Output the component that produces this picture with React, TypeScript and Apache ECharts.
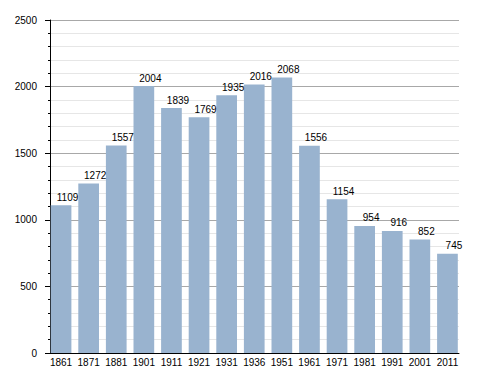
import React, { useEffect, useRef } from "react";
import * as echarts from "echarts";

const categories = ["1861", "1871", "1881", "1901", "1911", "1921", "1931", "1936", "1951", "1961", "1971", "1981", "1991", "2001", "2011"];
const values = [1109, 1272, 1557, 2004, 1839, 1769, 1935, 2016, 2068, 1556, 1154, 954, 916, 852, 745];
const yMax = 2500;
const yStep = 500;

export default function App() {
  const ref = useRef<HTMLDivElement>(null);
  useEffect(() => {
    if (!ref.current) return;
    const chart = echarts.init(ref.current, undefined, { renderer: "svg" });
    const font = "Liberation Sans, Arial, sans-serif";
    chart.setOption({
      animation: false,
      grid: [
        { left: 50, right: 29, top: 20, bottom: 20, containLabel: false },
        { left: 47.25, right: 26.75, top: 20, bottom: 20, containLabel: false },
      ],
      xAxis: [
        {
          gridIndex: 0,
          type: "category",
          data: categories,
          z: 10,
          axisLine: { lineStyle: { color: "#000", width: 1 } },
          axisTick: { show: false },
          axisLabel: { show: false },
          splitLine: { show: false },
        },
        {
          gridIndex: 1,
          type: "category",
          data: categories,
          axisLine: { show: false },
          axisTick: { show: false },
          axisLabel: { color: "#000", fontSize: 10, fontFamily: font, margin: 4, interval: 0 },
          splitLine: { show: false },
        },
      ],
      yAxis: [
        {
          gridIndex: 0,
          type: "value",
          min: 0,
          max: yMax,
          interval: yStep,
          axisLine: { show: true, lineStyle: { color: "#000", width: 1 } },
          axisTick: { show: true, length: 5, lineStyle: { color: "#000" } },
          minorTick: { show: true, splitNumber: 5, length: 2, lineStyle: { color: "#000" } },
          axisLabel: { color: "#000", fontSize: 10, fontFamily: font, margin: 13, formatter: (v: number) => String(v) },
          splitLine: { show: true, lineStyle: { color: "#a8a8a8", width: 1 } },
          minorSplitLine: { show: true, lineStyle: { color: "#e6e6e6", width: 1 } },
        },
        {
          gridIndex: 1,
          type: "value",
          min: 0,
          max: yMax,
          interval: yStep,
          show: false,
          splitLine: { show: false },
        },
      ],
      series: [
        {
          type: "bar",
          xAxisIndex: 1,
          yAxisIndex: 1,
          data: values,
          z: 3,
          barCategoryGap: "25%",
          itemStyle: { color: "#99b3cf" },
          label: {
            show: true,
            position: "top",
            color: "#000",
            fontSize: 10,
            fontFamily: font,
            distance: 3,
            offset: [6.5, 0],
          },
        },
      ],
    });
    return () => chart.dispose();
  }, []);
  return <div ref={ref} style={{ width: 488, height: 373, position: "absolute", left: 0, top: 0, background: "#fff" }} />;
}
